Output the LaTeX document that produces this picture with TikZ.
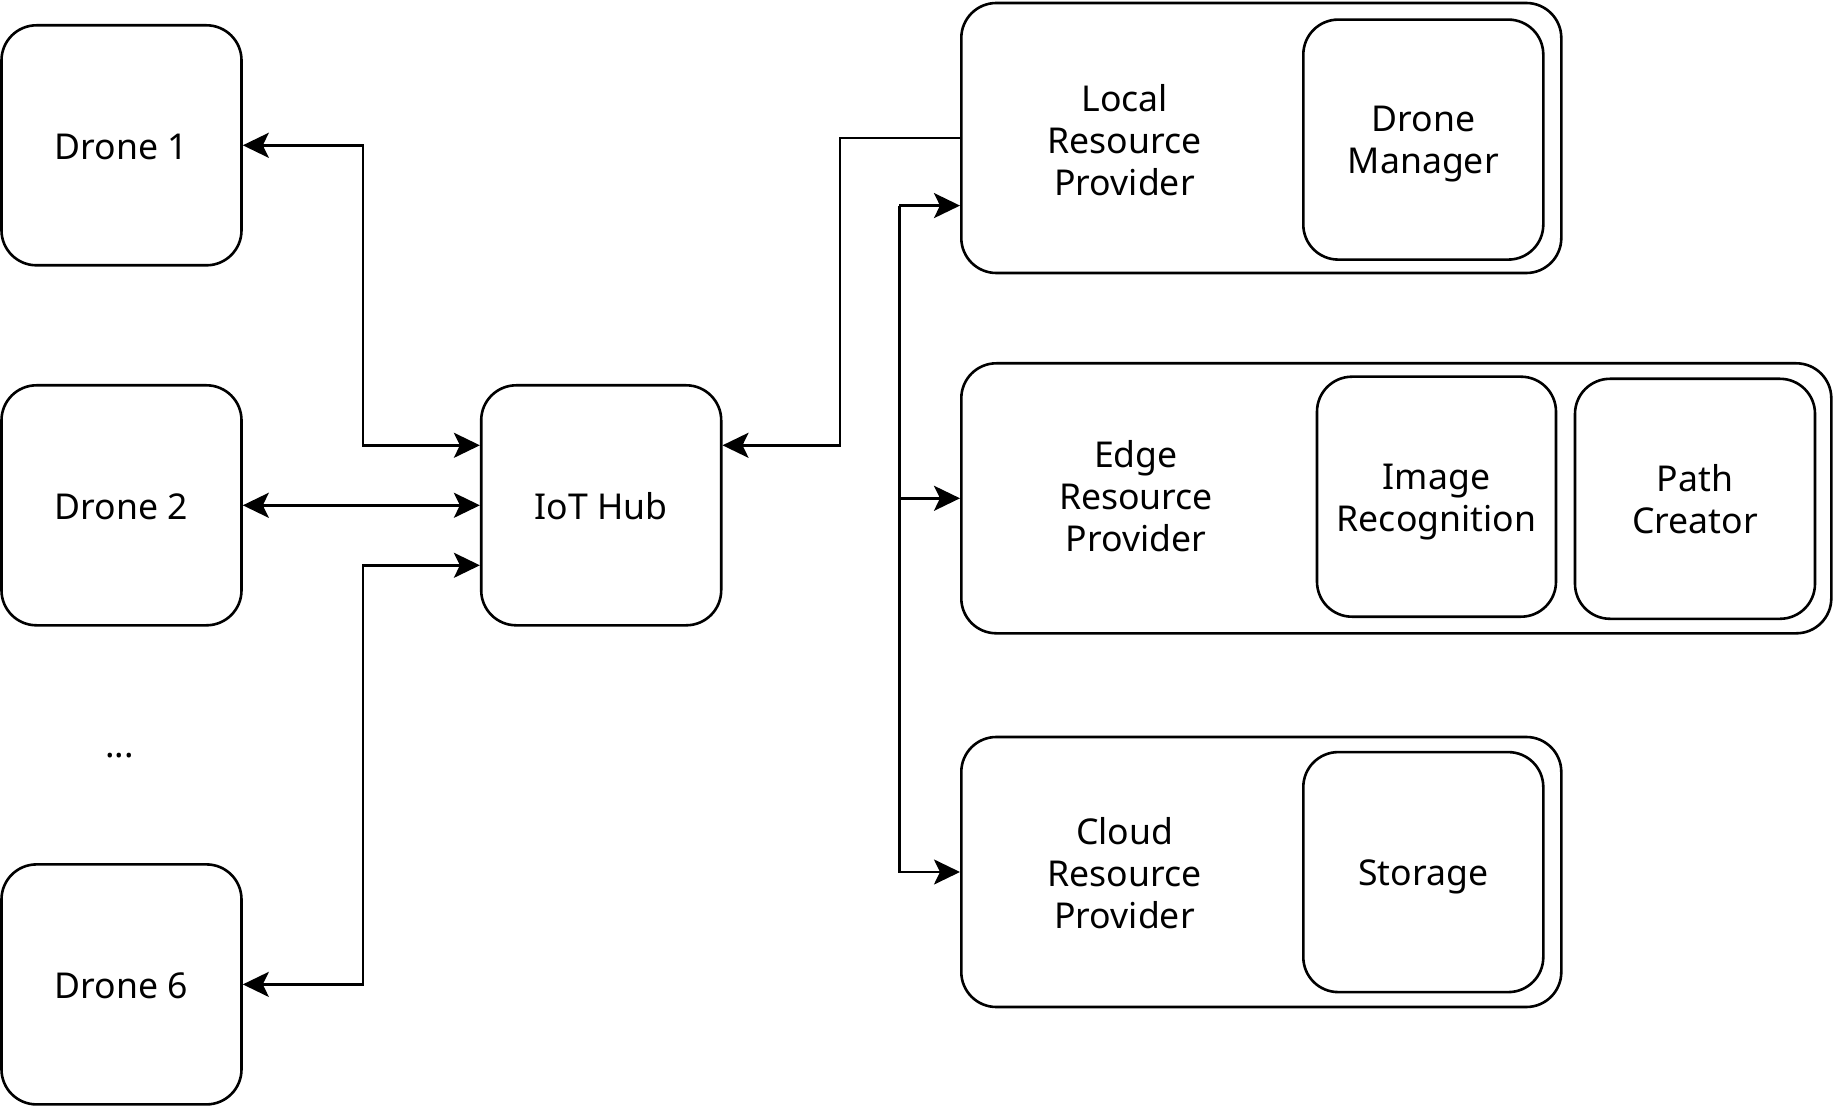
\documentclass[tikz,border=0pt]{standalone}
\usepackage{fontspec}
\setmainfont{Noto Sans}
\usepackage{tikz}
\usetikzlibrary{positioning, arrows.meta}

\newcommand{\linestrut}{\vrule height 17.6pt depth 3.8pt width 0pt}

\begin{document}
\begin{tikzpicture}[
    x=0.5pt, y=-0.5pt,
    every node/.style={font=\fontsize{17.8}{21}\selectfont, align=center,
        execute at end node=\linestrut},
    box node/.style={draw, line width=1.3pt, rounded corners=17.5pt, minimum width=120pt, minimum height=120pt, inner sep=0pt},
    provider node/.style={draw, line width=1.3pt, rounded corners=17.5pt, minimum height=135pt, minimum width=300pt, inner sep=0pt},
    text node/.style={draw=none, inner sep=0pt},
    tip/.style={line width=1.3pt, -{Stealth[length=13pt, width=12.5pt, inset=3pt]}},
    both tips/.style={line width=1.3pt, {Stealth[length=13pt, width=12.5pt, inset=3pt]}-{Stealth[length=13pt, width=12.5pt, inset=3pt]}}
    ]

    \useasboundingbox (0,0) rectangle (1833,1107);

    % Nodes
    \node[box node] (d1) at (121.5,145.3) {\linestrut Drone 1};
    \node[box node] (d2) at (121.5,505.3) {\linestrut Drone 2};
    \node[text node] (dots) at (119.7,744) {\linestrut ...};
    \node[box node] (d6) at (121.5,984.4) {\linestrut Drone 6};

    \node[box node] (hub) at (601.2,505.3) {\linestrut IoT Hub};

    \node[provider node] (local) at (1261.3,138) {};
    \node[text node] (localtxt) at (1124.6,139.3) {\linestrut Local\\Resource\\Provider};
    \node[box node] (dm) at (1423.3,139.6) {\linestrut Drone\\Manager};

    \node[provider node, minimum width=435pt] (edge) at (1396.3,498.3) {};
    \node[text node] (edgetxt) at (1136,496) {\linestrut Edge\\Resource\\Provider};
    \node[box node, minimum width=119.5pt] (imgrec) at (1436.5,496.7) {\linestrut Image\\Recognition};
    \node[box node] (pathc) at (1695,498.8) {\linestrut Path\\Creator};

    \node[provider node] (cloud) at (1261.3,872) {};
    \node[text node] (cloudtxt) at (1124.6,873) {\linestrut Cloud\\Resource\\Provider};
    \node[box node] (storage) at (1423.3,872.1) {\linestrut Storage};

    \coordinate (bus) at ([xshift=-30.3pt, yshift=-33.8pt]local.west);

    % Connections
    \draw[both tips] (d1.east) -- ++(120,0) |- ([yshift=30pt]hub.west);
    \draw[both tips] (d2.east) -- (hub.west);
    \draw[both tips] (d6.east) -- ++(120,0) |- ([yshift=-30pt]hub.west);

    \draw[tip] (local.west) -- ++(-120,0) |- ([yshift=30pt]hub.east);

    \draw[tip] (bus) -- ([yshift=-33.8pt]local.west);
    \foreach \p in {edge, cloud}
        \draw[tip] (bus) |- (\p.west);

\end{tikzpicture}
\end{document}
